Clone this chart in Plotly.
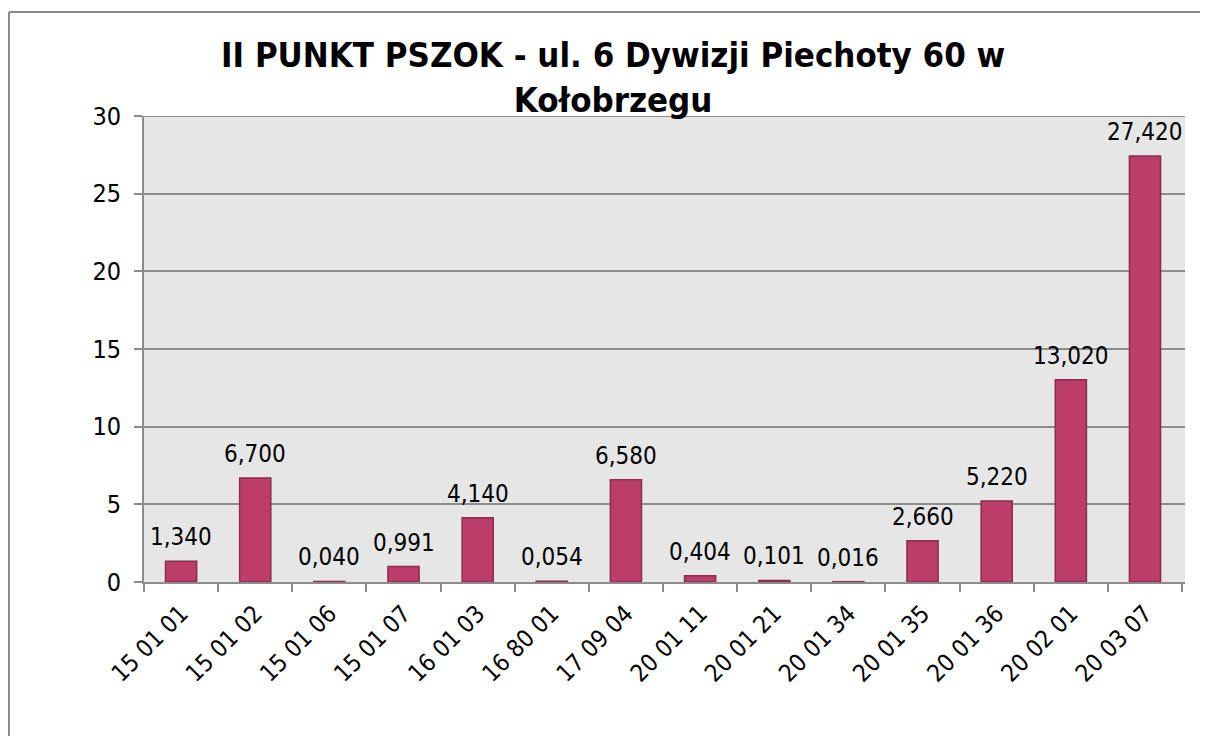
import plotly.graph_objects as go

categories = ["15 01 01", "15 01 02", "15 01 06", "15 01 07", "16 01 03", "16 80 01",
              "17 09 04", "20 01 11", "20 01 21", "20 01 34", "20 01 35", "20 01 36",
              "20 02 01", "20 03 07"]
values = [1.340, 6.700, 0.040, 0.991, 4.140, 0.054, 6.580, 0.404, 0.101, 0.016,
          2.660, 5.220, 13.020, 27.420]
y_ticks = [0, 5, 10, 15, 20, 25, 30]
title_text = "II PUNKT PSZOK - ul. 6 Dywizji Piechoty 60 w<br>Kołobrzegu"

FONT = "DejaVu Sans Condensed, DejaVu Sans, sans-serif"
OFF = 8  # default page body margin
W, H = 1208 - OFF, 736 - OFF
L, R, T, B = 144 - OFF, 23, 116 - OFF, 154
pw, ph = W - L - R, H - T - B

def px_x(p):
    return (p - OFF - L) / pw

def px_y(p):
    return (H - B - (p - OFF)) / ph

fig = go.Figure()
fig.add_trace(go.Bar(
    x=categories, y=values,
    marker=dict(color="#BC3D6A", line=dict(color="#8A2D4F", width=1.5)),
    hoverinfo="x+y",
))

annotations = []
for c, v in zip(categories, values):
    annotations.append(dict(
        x=c, y=v, xref="x", yref="y", text=f"{v:.3f}".replace(".", ","),
        showarrow=False, yanchor="bottom", yshift=8,
        font=dict(family=FONT, size=24, color="#000000"),
    ))
annotations.append(dict(
    x=px_x(613), y=px_y(78), xref="paper", yref="paper", text=title_text,
    showarrow=False, xanchor="center", yanchor="middle",
    font=dict(family=FONT, size=34.5, color="#000000", weight="bold"),
))

fig.update_layout(
    width=W, height=H,
    margin=dict(l=L, r=R, t=T, b=B, pad=0),
    paper_bgcolor="#FFFFFF", plot_bgcolor="#E6E6E6",
    bargap=0.58, showlegend=False,
    annotations=annotations,
    font=dict(family=FONT, size=24, color="#000000"),
    shapes=[
        dict(type="line", xref="paper", yref="paper", x0=px_x(9), x1=px_x(9),
             y0=px_y(12), y1=px_y(760), line=dict(color="#8C8C8C", width=2)),
        dict(type="line", xref="paper", yref="paper", x0=px_x(9), x1=px_x(1230),
             y0=px_y(12), y1=px_y(12), line=dict(color="#8C8C8C", width=2)),
        dict(type="line", xref="paper", yref="y", x0=0, x1=1, y0=30, y1=30,
             line=dict(color="#8C8C8C", width=2), layer="below"),
    ],
)
fig.update_xaxes(
    type="category", tickangle=-45, ticks="outside", tickson="boundaries",
    ticklen=8, tickcolor="#8C8C8C", tickwidth=2, ticklabelstandoff=6,
    showline=True, linecolor="#8C8C8C", linewidth=2,
    showgrid=False, tickfont=dict(family=FONT, size=24, color="#000000"),
)
fig.update_yaxes(
    range=[0, 30], tickvals=y_ticks, ticks="outside", ticklen=8,
    tickcolor="#8C8C8C", tickwidth=2, ticklabelstandoff=8,
    showline=True, linecolor="#8C8C8C", linewidth=2,
    showgrid=True, gridcolor="#8C8C8C", gridwidth=2, zeroline=False,
    tickfont=dict(family=FONT, size=25, color="#000000"),
)
fig.write_html("out.html")
